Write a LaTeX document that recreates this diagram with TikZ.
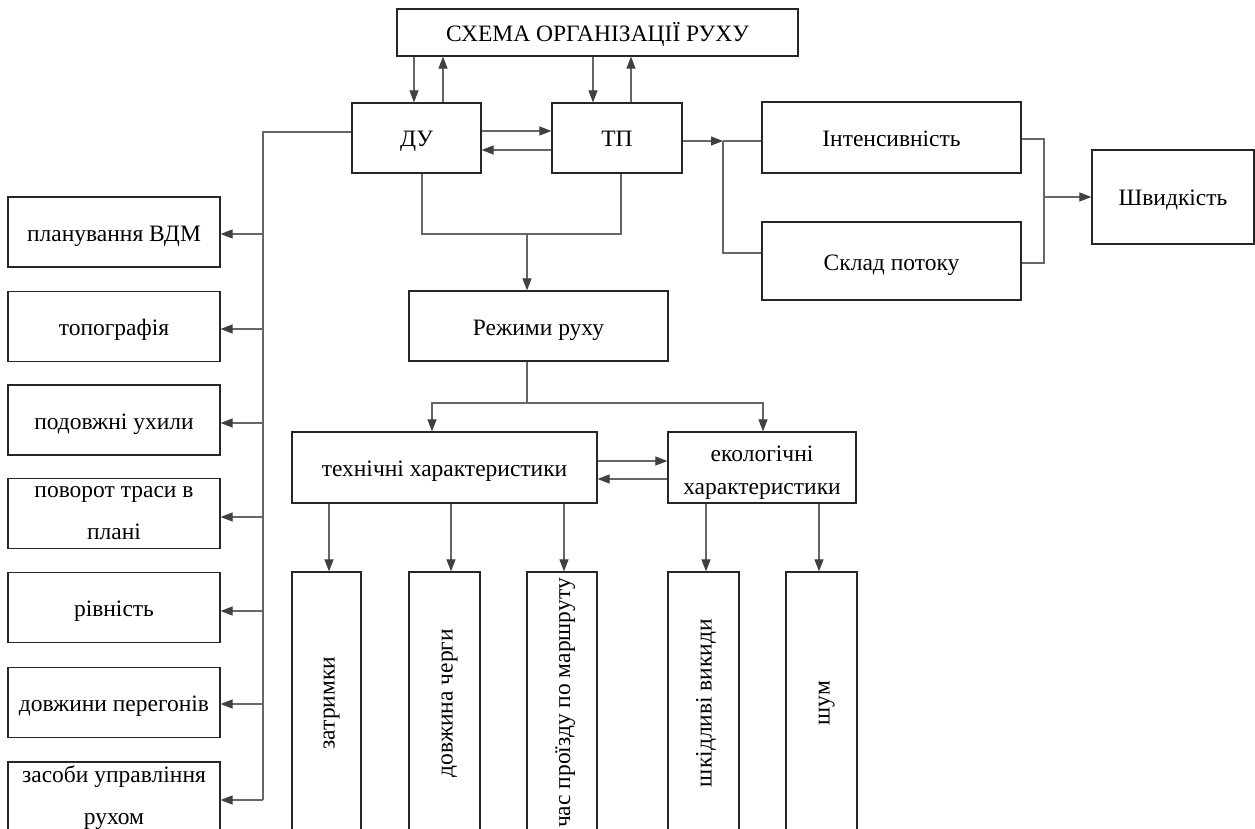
\documentclass[tikz,border=0pt]{standalone}
\usepackage{fontspec}
\setmainfont{Liberation Serif}
\usetikzlibrary{arrows.meta}
\begin{document}
\begin{tikzpicture}[x=1pt,y=-1pt,
  txt/.style={font=\fontsize{23.5}{28}\selectfont},
  box/.style={txt, draw=black!85, line width=1.2pt, fill=white, inner sep=0pt, align=center,
    text height=18pt, text depth=0pt},
  two/.style={font=\fontsize{23.5}{#1}\selectfont},
  wire/.style={draw=black!60, line width=1.05pt},
  arr/.style={wire, -{Triangle[length=12pt,width=9pt,color=black!75]}},
  lbl/.style={txt, inner sep=0pt, text height=16pt, text depth=0pt},
]
\useasboundingbox (0,0) rectangle (1255,829);

% upper row
\node[box, minimum width=401, minimum height=47] (top) at (597.5,32.5) {СХЕМА ОРГАНІЗАЦІЇ РУХУ};
\node[box, minimum width=129, minimum height=70] (du) at (416.5,138) {ДУ};
\node[box, minimum width=130, minimum height=70] (tp) at (617,138) {ТП};
\node[box, minimum width=259, minimum height=71] (int) at (891.5,137.5) {Інтенсивність};
\node[box, minimum width=259, minimum height=78] (skl) at (891.5,261) {Склад потоку};
\node[box, minimum width=162, minimum height=94] (shv) at (1173,197) {Швидкість};

% road factors on the left
\node[box, minimum width=212, minimum height=70] (b1) at (114,232) {планування ВДМ};
\node[box, minimum width=212, minimum height=70] (b2) at (114,326.5) {топографія};
\node[box, minimum width=212, minimum height=70] (b3) at (114,420) {подовжні ухили};
\node[box, minimum width=212, minimum height=70, two=42, text height=51pt] (b4) at (114,513.5) {поворот траси в\\плані};
\node[box, minimum width=212, minimum height=70] (b5) at (114,607.5) {рівність};
\node[box, minimum width=212, minimum height=70] (b6) at (114,702.5) {довжини перегонів};
\node[box, minimum width=212, minimum height=70, two=42, text height=55pt] (b7) at (114,797) {засоби управління\\рухом};

% traffic modes
\node[box, minimum width=259, minimum height=70] (rez) at (538.5,326) {Режими руху};
\node[box, minimum width=305, minimum height=71] (tech) at (444.5,467.5) {технічні характеристики};
\node[box, minimum width=188, minimum height=71, two=33, text height=53pt] (eco) at (762,467.5) {екологічні\\характеристики};

% indicators (vertical captions)
\node[box, minimum width=69, minimum height=262] (zat) at (326.5,703) {};
\node[box, minimum width=71, minimum height=262] (dov) at (444.5,703) {};
\node[box, minimum width=70, minimum height=262] (chas) at (562,703) {};
\node[box, minimum width=71, minimum height=262] (shk) at (703.5,703) {};
\node[box, minimum width=71, minimum height=262] (shum) at (821.5,703) {};
\node[lbl, rotate=90] (tzat) at (zat.center) {затримки};
\node[lbl, rotate=90] (tdov) at (dov.center) {довжина черги};
\node[lbl, rotate=90] (tchas) at (chas.center) {час проїзду по маршруту};
\node[lbl, rotate=90] (tshk) at (shk.center) {шкідливі викиди};
\node[lbl, rotate=90] (tshum) at (shum.center) {шум};

% links with the scheme
\draw[arr] (414,0 |- top.south) -- (414,0 |- du.north);
\draw[arr] (443,0 |- du.north) -- (443,0 |- top.south);
\draw[arr] (593,0 |- top.south) -- (593,0 |- tp.north);
\draw[arr] (631,0 |- tp.north) -- (631,0 |- top.south);
\draw[arr] (du.east |- 0,131) -- (tp.west |- 0,131);
\draw[arr] (tp.west |- 0,150) -- (du.east |- 0,150);

% flow parameters
\coordinate (j1) at (723,141);
\coordinate (j2) at (1044,197);
\draw[arr] (tp.east |- j1) -- (j1);
\draw[wire] (j1) -- (int.west |- j1);
\draw[wire] (j1) |- (skl.west |- 0,253);
\draw[wire] (int.east |- 0,139) -| (j2) |- (skl.east |- 0,263);
\draw[arr] (j2) -- (shv.west |- j2);

% bus to road factors
\coordinate (bus) at (263,132);
\draw[wire] (du.west |- bus) -- (bus) -- (bus |- 0,800);
\foreach \b/\yy in {b1/234,b2/329,b3/423,b4/517,b5/611,b6/704,b7/800}
  \draw[arr] (bus |- 0,\yy) -- (\b.east |- 0,\yy);

% to traffic modes
\coordinate (j3) at (527,234);
\draw[wire] (422,0 |- du.south) |- (j3) -| (621,0 |- tp.south);
\draw[arr] (j3) -- (j3 |- rez.north);
\coordinate (j4) at (527,403);
\draw[wire] (j4 |- rez.south) -- (j4);
\draw[arr] (j4) -| (432,0 |- tech.north);
\draw[arr] (j4) -| (763,0 |- eco.north);
\draw[arr] (tech.east |- 0,461) -- (eco.west |- 0,461);
\draw[arr] (eco.west |- 0,479) -- (tech.east |- 0,479);

% to indicators
\draw[arr] (329,0 |- tech.south) -- (329,0 |- zat.north);
\draw[arr] (451,0 |- tech.south) -- (451,0 |- dov.north);
\draw[arr] (564,0 |- tech.south) -- (564,0 |- chas.north);
\draw[arr] (706,0 |- eco.south) -- (706,0 |- shk.north);
\draw[arr] (819,0 |- eco.south) -- (819,0 |- shum.north);
\end{tikzpicture}
\end{document}
